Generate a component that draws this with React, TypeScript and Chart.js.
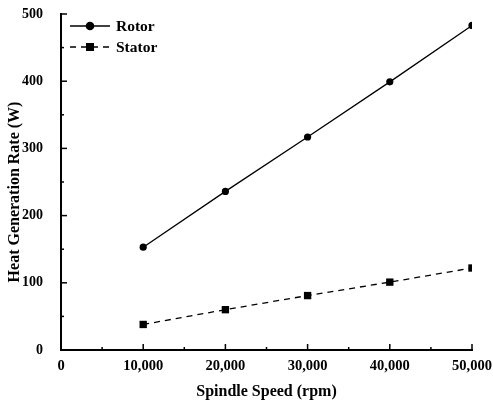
import { useEffect, useRef } from "react";
import { Chart, registerables } from "chart.js";
Chart.register(...registerables);

const speeds = [10000, 20000, 30000, 40000, 50000];
const rotor = [153, 236, 317, 399, 483];
const stator = [38, 60, 81, 101, 122];
const seriesNames = ["Rotor", "Stator"];
const xTitle = "Spindle Speed (rpm)";
const yTitle = "Heat Generation Rate (W)";

const FONT = "'Liberation Serif', 'Times New Roman', serif";

const innerTicks = {
  id: "innerTicks",
  afterDraw(chart: any) {
    const ctx = chart.ctx;
    const xs = chart.scales.x;
    const ys = chart.scales.y;
    const area = chart.chartArea;
    ctx.save();
    ctx.strokeStyle = "#000";
    ctx.lineWidth = 1.5;
    for (let v = 0; v <= 50000; v += 5000) {
      const px = xs.getPixelForValue(v);
      const len = v % 10000 === 0 ? 6 : 3;
      ctx.beginPath();
      ctx.moveTo(px, area.bottom);
      ctx.lineTo(px, area.bottom - len);
      ctx.stroke();
    }
    for (let v = 0; v <= 500; v += 50) {
      const py = ys.getPixelForValue(v);
      const len = v % 100 === 0 ? 6 : 3;
      ctx.beginPath();
      ctx.moveTo(area.left, py);
      ctx.lineTo(area.left + len, py);
      ctx.stroke();
    }
    // legend
    const lx = area.left + 9;
    let ly = area.top + 12;
    chart.data.datasets.forEach((ds: any, i: number) => {
      ctx.save();
      ctx.strokeStyle = "#000";
      ctx.lineWidth = 1.3;
      ctx.setLineDash(ds.borderDash || []);
      ctx.beginPath();
      ctx.moveTo(lx, ly);
      ctx.lineTo(lx + 40, ly);
      ctx.stroke();
      ctx.setLineDash([]);
      ctx.fillStyle = "#000";
      if (ds.pointStyle === "rect") {
        ctx.fillRect(lx + 20 - 4, ly - 4, 8, 8);
      } else {
        ctx.beginPath();
        ctx.arc(lx + 20, ly, 4.3, 0, Math.PI * 2);
        ctx.fill();
      }
      ctx.font = `bold 15.5px ${FONT}`;
      ctx.textBaseline = "middle";
      ctx.textAlign = "left";
      ctx.fillText(seriesNames[i], lx + 46, ly + 1);
      ctx.restore();
      ly += 21;
    });
    ctx.restore();
  },
};

export default function App() {
  const ref = useRef<HTMLCanvasElement>(null);
  useEffect(() => {
    document.body.style.margin = "0";
    const chart = new Chart(ref.current!, {
      type: "line",
      data: {
        datasets: [
          {
            label: seriesNames[0],
            data: speeds.map((s, i) => ({ x: s, y: rotor[i] })),
            borderColor: "#000",
            backgroundColor: "#000",
            borderWidth: 1.3,
            pointStyle: "circle",
            pointRadius: 3.6,
            pointBorderWidth: 0,
          },
          {
            label: seriesNames[1],
            data: speeds.map((s, i) => ({ x: s, y: stator[i] })),
            borderColor: "#000",
            backgroundColor: "#000",
            borderWidth: 1.3,
            borderDash: [6, 5],
            pointStyle: "rect",
            pointRadius: 5.2,
            pointBorderWidth: 0,
          },
        ],
      },
      options: {
        animation: false,
        responsive: false,
        layout: { padding: { top: 14, right: 21, left: 0, bottom: 0 } },
        plugins: { legend: { display: false }, tooltip: { enabled: false } },
        scales: {
          x: {
            type: "linear",
            min: 0,
            max: 50000,
            grid: { display: false },
            border: { display: true, color: "#000", width: 2 },
            ticks: {
              stepSize: 10000,
              color: "#000",
              padding: 0,
              font: { family: FONT, weight: "bold", size: 14.5 },
              callback: (v: any) => Number(v).toLocaleString("en-US"),
            },
            title: {
              display: true,
              text: xTitle,
              color: "#000",
              font: { family: FONT, weight: "bold", size: 16 },
              padding: { top: 0, bottom: 2 },
            },
            afterFit: (s: any) => {
              s.height = 53;
              s.paddingLeft = 0;
              s.paddingRight = 0;
              s.paddingTop = 0;
              s.paddingBottom = 0;
            },
          },
          y: {
            min: 0,
            max: 500,
            grid: { display: false },
            border: { display: true, color: "#000", width: 2 },
            ticks: {
              stepSize: 100,
              color: "#000",
              padding: 10,
              font: { family: FONT, weight: "bold", size: 14 },
            },
            title: {
              display: true,
              text: yTitle + "\u00A0\u00A0\u00A0\u00A0\u00A0",
              color: "#000",
              font: { family: FONT, weight: "bold", size: 16 },
              padding: { top: 5.5, bottom: 0 },
            },
            afterFit: (s: any) => {
              s.width = 61;
              s.paddingLeft = 0;
              s.paddingRight = 0;
              s.paddingTop = 0;
              s.paddingBottom = 0;
            },
          },
        },
      },
      plugins: [innerTicks],
    });
    return () => chart.destroy();
  }, []);
  return (
    <div style={{ width: 493, height: 403, background: "#fff" }}>
      <canvas ref={ref} width={493} height={403} />
    </div>
  );
}
